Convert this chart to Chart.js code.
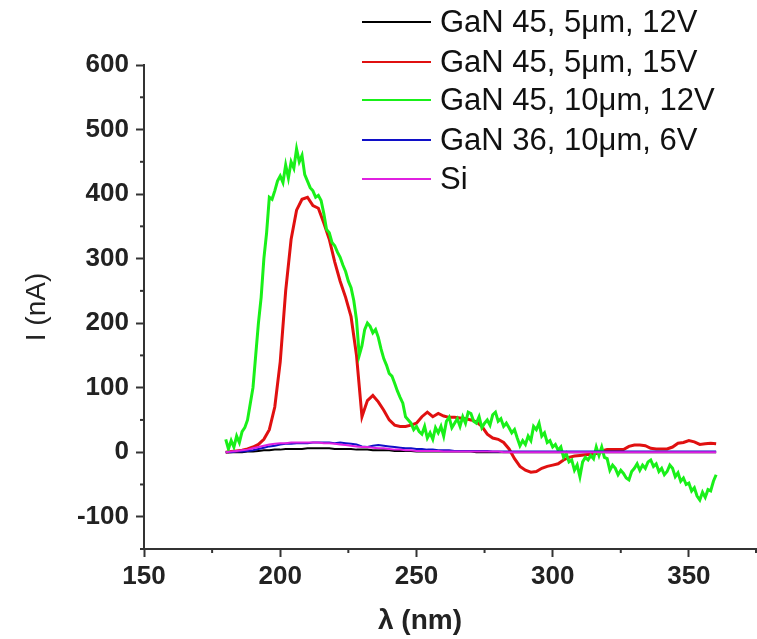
<!DOCTYPE html>
<html>
<head>
<meta charset="utf-8">
<script src="https://cdn.jsdelivr.net/npm/chart.js@4.4.1/dist/chart.umd.min.js"></script>
<style>
html,body{margin:0;padding:0;background:#fff;}
#c{display:block;}
</style>
</head>
<body>
<canvas id="c" width="757" height="639"></canvas>
<script>
// wavelength grid (nm), 180..360 step 2
const wavelength = [180,182,184,186,188,190,192,194,196,198,200,202,204,206,208,210,212,214,216,218,220,222,224,226,228,230,232,234,236,238,240,242,244,246,248,250,252,254,256,258,260,262,264,266,268,270,272,274,276,278,280,282,284,286,288,290,292,294,296,298,300,302,304,306,308,310,312,314,316,318,320,322,324,326,328,330,332,334,336,338,340,342,344,346,348,350,352,354,356,358,360];

// fine wavelength grid (nm), 180..360 step 1 (noisy green trace)
const wavelengthFine = [
180,181,182,183,184,185,186,187,188,189,
190,191,192,193,194,195,196,197,198,199,
200,201,202,203,204,205,206,207,208,209,
210,211,212,213,214,215,216,217,218,219,
220,221,222,223,224,225,226,227,228,229,
230,231,232,233,234,235,236,237,238,239,
240,241,242,243,244,245,246,247,248,249,
250,251,252,253,254,255,256,257,258,259,
260,261,262,263,264,265,266,267,268,269,
270,271,272,273,274,275,276,277,278,279,
280,281,282,283,284,285,286,287,288,289,
290,291,292,293,294,295,296,297,298,299,
300,301,302,303,304,305,306,307,308,309,
310,311,312,313,314,315,316,317,318,319,
320,321,322,323,324,325,326,327,328,329,
330,331,332,333,334,335,336,337,338,339,
340,341,342,343,344,345,346,347,348,349,
350,351,352,353,354,355,356,357,358,359,
360];

const seriesLabels = ["GaN 45, 5\u03bcm, 12V","GaN 45, 5\u03bcm, 15V","GaN 45, 10\u03bcm, 12V","GaN 36, 10\u03bcm, 6V","Si"];
const seriesColors = ["#000000","#e01010","#19f019","#1010c8","#e020e0"];

const gan45_5um_12V = [0,0,0,0,1,1,2,3,3,4,4,5,5,5,5,6,6,6,6,6,5,5,5,5,4,4,4,3,3,3,3,2,2,2,2,1,1,1,1,1,1,1,1,1,1,1,0,0,0,0,0,0,0,0,0,0,0,0,0,0,0,0,0,0,0,0,0,0,0,0,0,0,0,0,0,0,0,0,0,0,0,0,0,0,0,0,0,0,0,0,0];

const gan45_5um_15V = [0,1,2,3,5,8,12,20,35,70,140,250,330,375,392,395,382,378,355,330,295,265,240,210,150,55,80,88,78,65,50,42,40,40,42,45,55,62,55,60,56,54,54,53,52,50,47,40,28,22,20,15,5,-10,-22,-28,-31,-30,-25,-22,-20,-18,-12,-8,-6,-5,-4,-3,-2,2,4,4,4,4,9,11,11,10,6,5,5,5,8,14,15,18,16,12,13,14,13];

const gan45_10um_12V = [
20,5,18,8,25,15,32,38,50,75,
100,150,200,240,300,340,395,392,405,420,
428,418,445,425,450,440,470,450,460,430,
420,410,405,395,398,390,370,345,340,325,
320,310,302,290,280,265,255,235,205,150,
165,190,200,195,185,190,178,160,145,135,
122,118,107,95,85,76,55,50,45,35,
40,32,28,40,22,30,20,38,30,40,
25,48,54,38,45,52,40,55,45,62,
60,48,45,55,38,45,50,42,58,62,
48,52,40,45,38,30,35,22,10,18,
12,25,18,40,35,45,25,30,15,18,
8,12,3,8,-8,-2,-15,-12,-28,-20,
-38,-15,-8,-12,-5,-10,8,-5,8,-8,
-10,-28,-20,-25,-35,-28,-33,-40,-43,-30,
-25,-18,-28,-20,-25,-15,-12,-22,-18,-30,
-25,-35,-30,-20,-25,-38,-32,-45,-40,-50,
-48,-60,-55,-68,-74,-62,-70,-58,-60,-45,
-35];

const gan36_10um_6V = [0,0,1,1,2,3,5,7,9,10,12,13,13,14,14,14,15,15,15,15,14,15,14,13,12,9,8,10,11,10,9,8,7,6,6,5,5,4,4,3,3,3,2,2,2,2,2,2,2,1,1,1,1,1,1,1,1,1,1,1,1,1,1,1,1,1,1,1,1,1,1,1,1,1,1,1,1,1,1,1,1,1,1,1,1,1,1,1,1,1,1];

const si = [0,1,2,3,4,6,8,10,12,13,14,14,15,15,15,15,15,15,14,14,13,12,11,10,9,8,8,7,6,6,5,4,4,3,3,2,2,2,2,2,1,1,1,1,1,1,1,1,1,1,1,0,0,0,0,0,0,0,0,0,0,0,0,0,0,0,0,0,0,0,0,0,0,0,0,0,0,0,0,0,0,0,0,0,0,0,0,0,0,0,0];

const xTicks = [150,200,250,300,350];
const xMinorTicks = [175,225,275,325,375];
const yTicks = [-100,0,100,200,300,400,500,600];
const yMinorTicks = [-150,-50,50,150,250,350,450,550];

const allSeries = [gan45_5um_12V, gan45_5um_15V, gan45_10um_12V, gan36_10um_6V, si];
const xGrids = [wavelength, wavelength, wavelengthFine, wavelength, wavelength];
const widths = [2,3,3,2,2];
const orders = [5,4,3,2,1];

const datasets = allSeries.map((arr,i)=>({
  label: seriesLabels[i],
  data: arr.map((v,j)=>({x:xGrids[i][j], y:v})),
  borderColor: seriesColors[i],
  backgroundColor: seriesColors[i],
  borderWidth: widths[i],
  pointRadius: 0,
  tension: 0,
  fill: false,
  order: orders[i]
}));

const AXIS = '#333333';

const extras = {
  id:'extras',
  afterDraw(chart){
    const ctx = chart.ctx;
    const xs = chart.scales.x, ys = chart.scales.y;
    const ca = chart.chartArea;
    ctx.save();
    ctx.strokeStyle = AXIS;
    ctx.lineWidth = 2;
    // minor ticks
    xMinorTicks.forEach(v=>{
      let px = xs.getPixelForValue(v);
      if (px > chart.width-1) px = chart.width-1;
      ctx.beginPath(); ctx.moveTo(px, ca.bottom); ctx.lineTo(px, ca.bottom+4); ctx.stroke();
    });
    yMinorTicks.forEach(v=>{
      const py = ys.getPixelForValue(v);
      ctx.beginPath(); ctx.moveTo(ca.left, py); ctx.lineTo(ca.left-4, py); ctx.stroke();
    });
    // legend
    ctx.textBaseline = 'middle';
    ctx.textAlign = 'left';
    ctx.font = '31px "Liberation Sans", Arial, sans-serif';
    const rows = [22,62,100,140,179];
    chart.data.datasets.forEach((ds,i)=>{
      ctx.strokeStyle = ds.borderColor;
      ctx.lineWidth = 2;
      ctx.beginPath(); ctx.moveTo(362, rows[i]); ctx.lineTo(431, rows[i]); ctx.stroke();
      ctx.fillStyle = '#111';
      ctx.fillText(ds.label, 440, rows[i]+1);
    });
    // axis titles
    ctx.fillStyle = '#222';
    ctx.textAlign = 'center';
    ctx.font = 'bold 28px "Liberation Sans", Arial, sans-serif';
    ctx.fillText('\u03bb (nm)', 420, 621);
    ctx.save();
    ctx.translate(37, 307);
    ctx.rotate(-Math.PI/2);
    ctx.font = '28px "Liberation Sans", Arial, sans-serif';
    ctx.fillText('I (nA)', 0, 0);
    ctx.restore();
    ctx.restore();
  }
};

new Chart(document.getElementById('c'), {
  type:'line',
  data:{datasets},
  options:{
    responsive:false,
    animation:false,
    devicePixelRatio:1,
    layout:{padding:{top:65,right:0,bottom:0,left:0}},
    plugins:{legend:{display:false}, tooltip:{enabled:false}},
    scales:{
      x:{
        type:'linear', min:150, max:375,
        afterBuildTicks(s){ s.ticks = xTicks.map(v=>({value:v})); },
        afterFit(s){ s.height = 90; },
        grid:{drawOnChartArea:false, drawTicks:true, tickLength:8, tickColor:AXIS, tickWidth:2},
        border:{display:true, color:AXIS, width:2},
        ticks:{color:'#222', padding:4, maxRotation:0, autoSkip:false,
          font:{family:'"Liberation Sans", Arial, sans-serif', size:26, weight:'bold'}}
      },
      y:{
        type:'linear', min:-150, max:600,
        afterBuildTicks(s){ s.ticks = yTicks.map(v=>({value:v})); },
        afterFit(s){ s.width = 144; },
        grid:{drawOnChartArea:false, drawTicks:true, tickLength:8, tickColor:AXIS, tickWidth:2},
        border:{display:true, color:AXIS, width:2},
        ticks:{color:'#222', padding:7, autoSkip:false,
          font:{family:'"Liberation Sans", Arial, sans-serif', size:26, weight:'bold'}}
      }
    }
  },
  plugins:[extras]
});
</script>
</body>
</html>
